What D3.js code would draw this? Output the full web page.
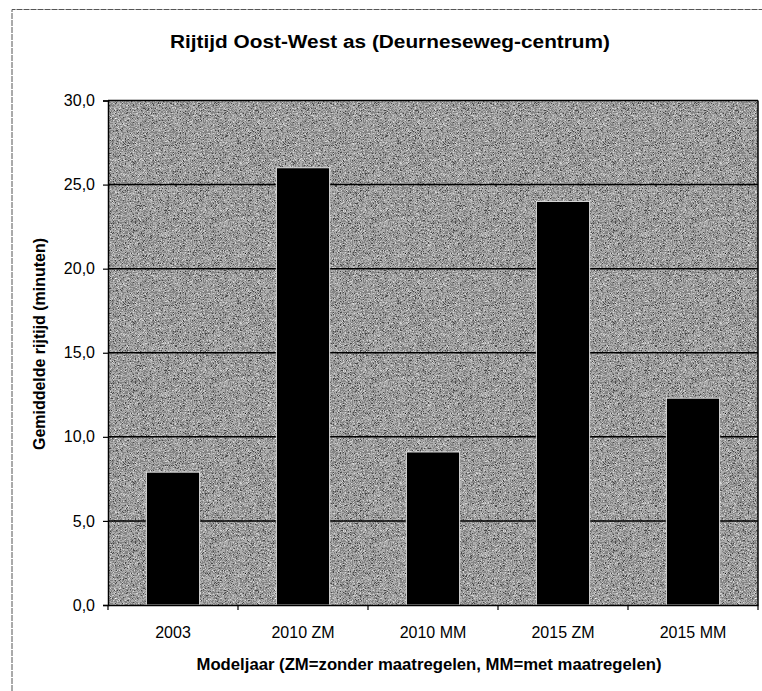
<!DOCTYPE html>
<html>
<head>
<meta charset="utf-8">
<script src="https://cdn.jsdelivr.net/npm/d3@7"></script>
<style>
  html, body { margin: 0; padding: 0; background: #fff; }
  svg { display: block; font-family: "Liberation Sans", Arial, sans-serif; }
</style>
</head>
<body>
<svg id="chart" width="762" height="691"></svg>
<script>
// Gemiddelde rijtijd per modeljaar (minuten)
const categories = ["2003", "2010 ZM", "2010 MM", "2015 ZM", "2015 MM"];
const values = [7.9, 26.0, 9.1, 24.0, 12.3];
const yTicks = [0, 5, 10, 15, 20, 25, 30];

const titleText = "Rijtijd Oost-West as (Deurneseweg-centrum)";
const xTitleText = "Modeljaar (ZM=zonder maatregelen, MM=met maatregelen)";
const yTitleText = "Gemiddelde rijtijd  (minuten)";

const svg = d3.select("#chart");
const plot = { left: 108, top: 100.5, right: 758, bottom: 605 };

const x = d3.scaleBand().domain(categories).range([plot.left, plot.right]).padding(0);
const y = d3.scaleLinear().domain([0, 30]).range([plot.bottom, plot.top]);

// fine speckled grey fill of the plot area
const defs = svg.append("defs");
const f = defs.append("filter").attr("id", "grain")
  .attr("x", 0).attr("y", 0).attr("width", 1).attr("height", 1)
  .attr("filterUnits", "objectBoundingBox")
  .attr("color-interpolation-filters", "sRGB");
f.append("feTurbulence").attr("type", "fractalNoise")
  .attr("baseFrequency", 1.6).attr("numOctaves", 1).attr("seed", 7).attr("result", "n");
f.append("feColorMatrix").attr("in", "n").attr("type", "matrix")
  .attr("values", "1 0 0 0 0  1 0 0 0 0  1 0 0 0 0  0 0 0 0 1")
  .attr("result", "g");
f.append("feComponentTransfer").attr("in", "g")
  .call(t => {
    const tv = "0.05 0.28 0.52 0.68 0.84 1.0";
    t.append("feFuncR").attr("type", "discrete").attr("tableValues", tv);
    t.append("feFuncG").attr("type", "discrete").attr("tableValues", tv);
    t.append("feFuncB").attr("type", "discrete").attr("tableValues", tv);
  });

// outer chart frame (left and top edges)
svg.append("path")
  .attr("d", `M12,691 L12,9.5 L762,9.5`)
  .attr("fill", "none").attr("stroke", "#555").attr("stroke-width", 1)
  .attr("stroke-dasharray", "6,1");

svg.append("rect")
  .attr("x", plot.left).attr("y", plot.top)
  .attr("width", plot.right - plot.left).attr("height", plot.bottom - plot.top)
  .attr("fill", "#8a8a8a")
  .attr("filter", "url(#grain)");

// horizontal gridlines
svg.append("g").selectAll("line")
  .data(yTicks.filter(d => d > 0))
  .join("line")
  .attr("x1", plot.left).attr("x2", plot.right)
  .attr("y1", d => y(d)).attr("y2", d => y(d))
  .attr("stroke", "#000").attr("stroke-width", 1.5);

// bars
const barW = x.bandwidth() * 0.41;
svg.append("g").selectAll("rect")
  .data(values)
  .join("rect")
  .attr("x", (d, i) => x(categories[i]) + (x.bandwidth() - barW) / 2)
  .attr("y", d => y(d))
  .attr("width", barW)
  .attr("height", d => y(0) - y(d))
  .attr("fill", "#000")
  .attr("stroke", "#e6e6e6").attr("stroke-width", 1);

// plot frame right side
svg.append("line")
  .attr("x1", plot.right).attr("x2", plot.right)
  .attr("y1", plot.top).attr("y2", plot.bottom)
  .attr("stroke", "#000").attr("stroke-width", 1.5);

// y axis
const yAxis = d3.axisLeft(y).tickValues(yTicks).tickSize(5).tickPadding(8)
  .tickFormat(d => d3.format(".1f")(d).replace(".", ","));
const gy = svg.append("g").attr("transform", `translate(${plot.left},0)`).call(yAxis);
gy.select(".domain").attr("stroke", "#000").attr("stroke-width", 1.5);
gy.selectAll(".tick line").attr("stroke", "#000").attr("stroke-width", 1.2);
gy.selectAll(".tick text").attr("font-size", 16).attr("fill", "#000")
  .attr("font-family", "Liberation Sans, Arial, sans-serif");

// x axis with ticks at category boundaries
const xAxis = d3.axisBottom(x).tickSize(0).tickPadding(22);
const gx = svg.append("g").attr("transform", `translate(0,${plot.bottom})`).call(xAxis);
gx.select(".domain").attr("stroke", "#000").attr("stroke-width", 1.5);
gx.selectAll(".tick text").attr("font-size", 16).attr("fill", "#000")
  .attr("font-family", "Liberation Sans, Arial, sans-serif");
gx.append("g").selectAll("line")
  .data(categories.concat([null]))
  .join("line")
  .attr("x1", (d, i) => plot.left + i * x.step())
  .attr("x2", (d, i) => plot.left + i * x.step())
  .attr("y1", 0).attr("y2", 5)
  .attr("stroke", "#000").attr("stroke-width", 1.2);

// titles
svg.append("text")
  .attr("x", 390).attr("y", 47.5)
  .attr("text-anchor", "middle")
  .attr("font-size", 18).attr("font-weight", "bold")
  .attr("textLength", 440).attr("lengthAdjust", "spacingAndGlyphs")
  .text(titleText);

svg.append("text")
  .attr("x", 429).attr("y", 670)
  .attr("text-anchor", "middle")
  .attr("font-size", 16).attr("font-weight", "bold")
  .attr("textLength", 465).attr("lengthAdjust", "spacingAndGlyphs")
  .text(xTitleText);

svg.append("text")
  .attr("transform", `translate(45,344) rotate(-90)`)
  .attr("text-anchor", "middle")
  .attr("font-size", 16).attr("font-weight", "bold")
  .attr("textLength", 212).attr("lengthAdjust", "spacingAndGlyphs")
  .text(yTitleText);
</script>
</body>
</html>
